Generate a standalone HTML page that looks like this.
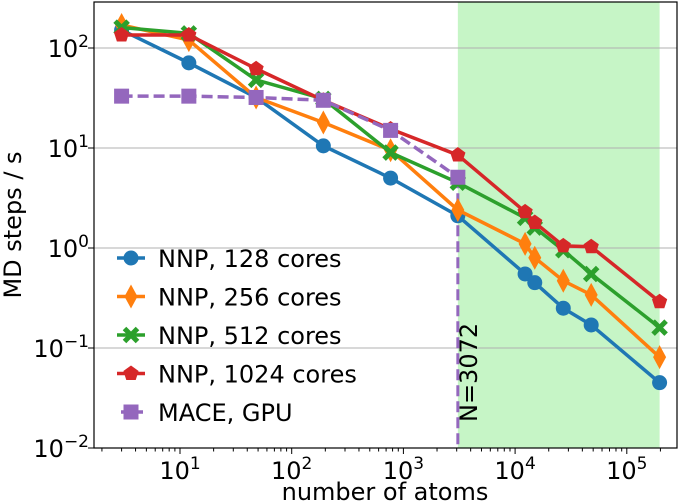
<!DOCTYPE html>
<html><head><meta charset="utf-8"><style>
html,body{margin:0;padding:0;background:#fff;}
svg{display:block;font-family:"DejaVu Sans","Liberation Sans",sans-serif;}
</style></head><body>
<svg id="chart" width="685" height="503"></svg>
<script>
const xValues=[3,12,48,192,768,3072,12288,15000,27000,48000,196608];
const nnp128=[151,71,32,10.5,5.0,2.1,0.55,0.45,0.25,0.17,0.045];
const nnp256=[170,120,32,18,9.5,2.4,1.1,0.8,0.47,0.34,0.081];
const nnp512=[160,140,48,31,9,4.5,2.0,1.6,0.95,0.55,0.16];
const nnp1024=[135,135,62,30,15.5,8.5,2.3,1.8,1.05,1.03,0.29];
const maceX=[3,12,48,192,768,3072];
const maceGPU=[33,33,32,30,15,5.1];
const seriesNames=["NNP, 128 cores","NNP, 256 cores","NNP, 512 cores","NNP, 1024 cores","MACE, GPU"];
const xTickExp=[1,2,3,4,5];
const yTickExp=[2,1,0,-1,-2];
const markerN=3072, greenEnd=196608;

const NS="http://www.w3.org/2000/svg";
const svg=document.getElementById('chart');
const L=94,R=677,T=2,B=448;
function sx(v){return 180+(Math.log10(v)-1)*111.7;}
function sy(v){return 248-Math.log10(v)*100;}
function mk(tag,attrs,parent){const e=document.createElementNS(NS,tag);for(const k in attrs)e.setAttribute(k,attrs[k]);(parent||svg).appendChild(e);return e;}

const shade=mk('rect',{x:sx(markerN),y:T,width:sx(greenEnd)-sx(markerN),height:B-T,fill:'#c6f5c6'});



yTickExp.forEach(e=>{const g=mk('line',{x1:L,x2:R,y1:sy(Math.pow(10,e)),y2:sy(Math.pow(10,e)),stroke:'#b0b0b0','stroke-width':1});

});

for(let d=0;d<=5;d++){for(let m=1;m<10;m++){const v=m*Math.pow(10,d);const x=sx(v);if(x<L||x>R)continue;
 const len=(m===1)?6:3.5;const t=mk('line',{x1:x,x2:x,y1:B,y2:B+len,stroke:'#000','stroke-width':1});
 
 }}
xTickExp.forEach(e=>{const t=mk('text',{x:sx(Math.pow(10,e)),y:479,'text-anchor':'middle','font-size':24,fill:'#000'});
 
 
 t.innerHTML='10<tspan dy="-10" font-size="17">'+e+'</tspan>';});
yTickExp.forEach(e=>{const y=sy(Math.pow(10,e));mk('line',{x1:L-6,x2:L,y1:y,y2:y,stroke:'#000','stroke-width':1});
 const t=mk('text',{x:89,y:y+9,'text-anchor':'end','font-size':24,fill:'#000'});
 
 
 t.innerHTML='10<tspan dy="-10" font-size="17">'+(e<0?'\u2212'+(-e):e)+'</tspan>';});

const vl=mk('line',{x1:sx(markerN),x2:sx(markerN),y1:sy(maceGPU[5]),y2:B,stroke:'#9467bd','stroke-width':3,'stroke-dasharray':'11,5'});


const nt=mk('text',{x:0,y:0,'font-size':24,fill:'#000',transform:'translate('+(sx(markerN)+19)+',422) rotate(-90)'});
nt.textContent='N=3072';



function marker(type,x,y,c,parent){
 if(type==='circle')return mk('circle',{cx:x,cy:y,r:7.5,fill:c},parent);
 if(type==='diamond')return mk('polygon',{points:`${x},${y-12} ${x+6.5},${y} ${x},${y+12} ${x-6.5},${y}`,fill:c},parent);
 if(type==='x'){return mk('path',{d:`M${x-6.5},${y-6.5}L${x+6.5},${y+6.5}M${x+6.5},${y-6.5}L${x-6.5},${y+6.5}`,stroke:c,'stroke-width':5,fill:'none'},parent);}
 if(type==='pent'){let p=[];for(let i=0;i<5;i++){const a=-Math.PI/2+i*2*Math.PI/5;p.push((x+8*Math.cos(a))+','+(y+8*Math.sin(a)));}return mk('polygon',{points:p.join(' '),fill:c},parent);}
 if(type==='square')return mk('rect',{x:x-7.5,y:y-7.5,width:15,height:15,fill:c},parent);
}
const series=[
 {xs:xValues,ys:nnp128,c:'#1f77b4',m:'circle',dash:null,n:'series-nnp-128'},
 {xs:xValues,ys:nnp256,c:'#ff7f0e',m:'diamond',dash:null,n:'series-nnp-256'},
 {xs:xValues,ys:nnp512,c:'#2ca02c',m:'x',dash:null,n:'series-nnp-512'},
 {xs:xValues,ys:nnp1024,c:'#d62728',m:'pent',dash:null,n:'series-nnp-1024'},
 {xs:maceX,ys:maceGPU,c:'#9467bd',m:'square',dash:'11,5',n:'series-mace-gpu'}];
series.forEach(s=>{const g=mk('g',{});
 
 
 const pts=s.xs.map((x,i)=>sx(x)+','+sy(s.ys[i])).join(' ');
 const pl=mk('polyline',{points:pts,fill:'none',stroke:s.c,'stroke-width':3.5});if(s.dash)pl.setAttribute('stroke-dasharray',s.dash);g.appendChild(pl);
 s.xs.forEach((x,i)=>{const m=marker(s.m,sx(x),sy(s.ys[i]),s.c,g);
  
  });});

mk('rect',{x:L,y:T,width:R-L,height:B-T,fill:'none',stroke:'#000','stroke-width':1.2});

const lg=mk('g',{});


series.forEach((s,i)=>{const y=258+i*38.5;const e=mk('g',{},lg);
 
 
 const ln=mk('line',{x1:117,x2:145,y1:y,y2:y,stroke:s.c,'stroke-width':3.5},e);
 if(s.dash)ln.setAttribute('x1',121),ln.setAttribute('x2',143);
 marker(s.m,131,y,s.c,e);
 const t=mk('text',{x:158,y:y+9,'font-size':24,fill:'#000'},e);t.textContent=seriesNames[i];});

const xl=mk('text',{x:385,y:500,'text-anchor':'middle','font-size':24,fill:'#000'});
xl.textContent='number of atoms';


const yl=mk('text',{x:0,y:0,'text-anchor':'middle','font-size':24,fill:'#000',transform:'translate(21,225) rotate(-90)'});
yl.textContent='MD steps / s';


</script>
</body></html>
